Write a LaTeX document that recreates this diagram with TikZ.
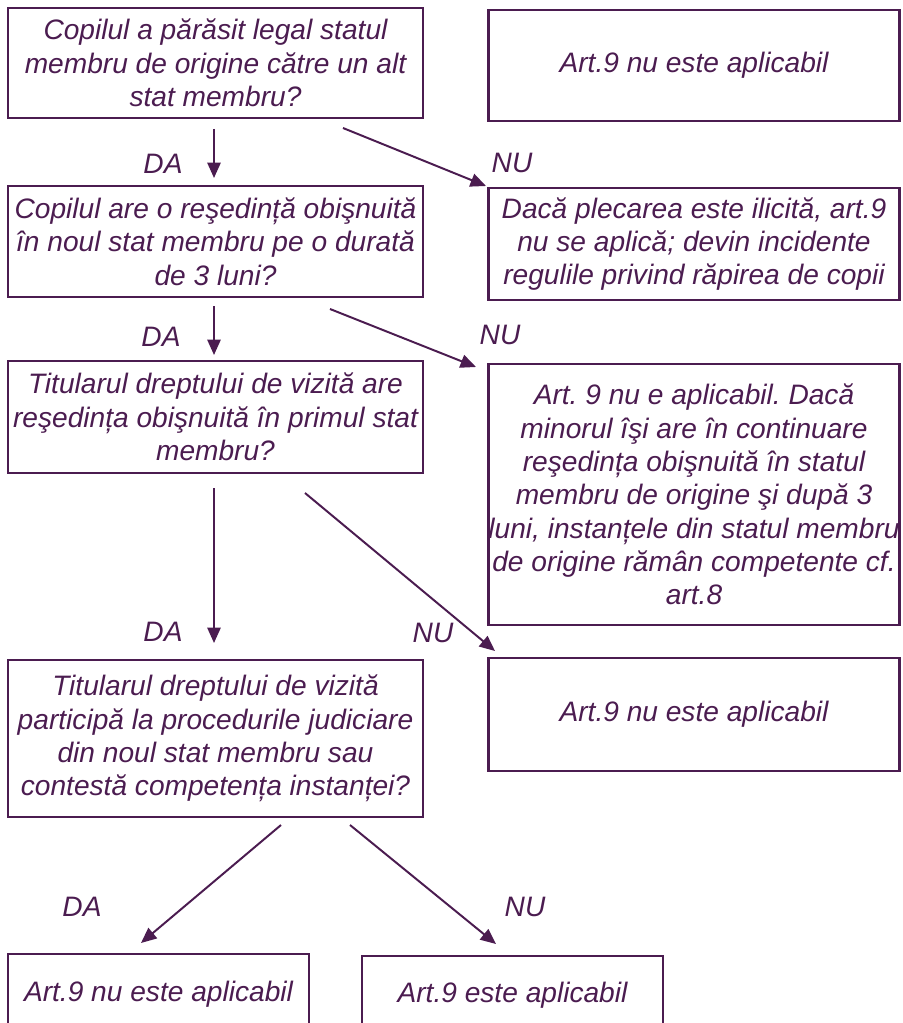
\documentclass[tikz,border=0pt]{standalone}
\usepackage{fontspec}
\setmainfont{Liberation Sans}
\usetikzlibrary{arrows.meta}
\definecolor{plum}{RGB}{75,28,80}
\frenchspacing
\tikzset{
	box/.style={draw=plum, line width=1.6pt, text=plum, align=center, inner sep=0pt,
		font=\fontsize{20}{23.7}\selectfont\itshape},
	lbl/.style={text=plum, font=\fontsize{20}{23.7}\selectfont\itshape},
	arr/.style={draw=plum, line width=1.4pt, -{Triangle[length=11pt,width=9.5pt]}}
}
\begin{document}
\begin{tikzpicture}[x=0.025cm, y=-0.025cm]
		\clip (0,0) rectangle (902,1023);
		
		% left column: questions
		\node[box, minimum width=10.375cm, minimum height=2.75cm] (q1) at (215.5,63)
			{Copilul a părăsit legal statul\\membru de origine către un alt\\stat membru?};
		\node[box, minimum width=10.375cm, minimum height=2.775cm] (q2) at (215.5,241.5)
			{Copilul are o reşedință obişnuită\\în noul stat membru pe o durată\\de 3 luni?};
		\node[box, minimum width=10.375cm, minimum height=2.8cm] (q3) at (215.5,417)
			{Titularul dreptului de vizită are\\reşedința obişnuită în primul stat\\membru?};
		\node[box, minimum width=10.375cm, minimum height=3.925cm] (q4) at (215.5,738.5)
			{Titularul dreptului de vizită\\participă la procedurile judiciare\\din noul stat membru sau\\contestă competența instanței?};
		
		% right column: answers
		\node[box, minimum width=10.275cm, minimum height=2.775cm] (r1) at (694,65.5)
			{Art.9 nu este aplicabil};
		\node[box, minimum width=10.275cm, minimum height=2.8cm] (r2) at (694,244)
			{Dacă plecarea este ilicită, art.9\\nu se aplică; devin incidente\\regulile privind răpirea de copii};
		\node[box, minimum width=10.275cm, minimum height=6.525cm] (r3) at (694,494.5)
			{Art. 9 nu e aplicabil. Dacă\\minorul îşi are în continuare\\reşedința obişnuită în statul\\membru de origine şi după 3\\luni, instanțele din statul membru\\de origine rămân competente cf.\\art.8};
		\node[box, minimum width=10.275cm, minimum height=2.825cm] (r4) at (694,714.5)
			{Art.9 nu este aplicabil};
		
		% bottom row
		\node[box, minimum width=7.525cm, minimum height=2cm] (b1) at (158.5,994)
			{Art.9 nu este aplicabil};
		\node[box, minimum width=7.525cm, minimum height=1.95cm] (b2) at (512.5,995)
			{Art.9 este aplicabil};
		
		% free arrow ends
		\coordinate (q1a) at (214,129);
		\coordinate (q2b) at (214,178);
		\coordinate (q1n) at (343,128);
		\coordinate (r2n) at (486,186);
		\coordinate (q2a) at (214,306);
		\coordinate (q3b) at (214,355);
		\coordinate (q2n) at (330,309);
		\coordinate (r3n) at (476,367);
		\coordinate (q3a) at (214,488);
		\coordinate (q4b) at (214,643);
		\coordinate (q3n) at (305,493);
		\coordinate (r4n) at (495,651);
		\coordinate (q4a) at (281,825);
		\coordinate (b1n) at (141,943);
		\coordinate (q4n) at (350,825);
		\coordinate (b2n) at (496,944);
		
		\draw[arr] (q1a) -- (q2b);
		\draw[arr] (q1n) -- (r2n);
		\draw[arr] (q2a) -- (q3b);
		\draw[arr] (q2n) -- (r3n);
		\draw[arr] (q3a) -- (q4b);
		\draw[arr] (q3n) -- (r4n);
		\draw[arr] (q4a) -- (b1n);
		\draw[arr] (q4n) -- (b2n);
		
		\node[lbl] (da1) at (163,164) {DA};
		\node[lbl] (nu1) at (512,163) {NU};
		\node[lbl] (da2) at (161,337) {DA};
		\node[lbl] (nu2) at (500,335) {NU};
		\node[lbl] (da3) at (163,632) {DA};
		\node[lbl] (nu3) at (433,633) {NU};
		\node[lbl] (da4) at (82,907) {DA};
		\node[lbl] (nu4) at (525,907) {NU};
	\end{tikzpicture}
\end{document}
